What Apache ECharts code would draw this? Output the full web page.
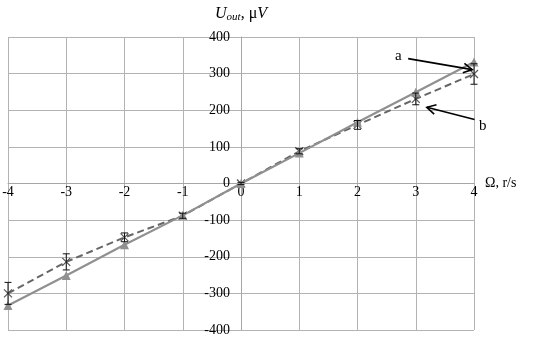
<!DOCTYPE html>
<html>
<head>
<meta charset="utf-8">
<script src="https://cdn.jsdelivr.net/npm/echarts@6/dist/echarts.min.js"></script>
<style>
  html, body { margin: 0; padding: 0; background: #fff; }
  #chart { width: 550px; height: 344px; }
</style>
</head>
<body>
<div id="chart"></div>
<script>
// angular rate, r/s
var omega = [-4, -3, -2, -1, 0, 1, 2, 3, 4];
// curve a (solid, triangles)
var seriesA = [-333, -251, -167, -87, 0, 83, 167, 249, 332];
// curve b (dashed, crosses) with error half-widths
var seriesB = [-300, -214, -147, -88, 0, 88, 160, 231, 299];
var errorB = [30, 22, 12, 7, 3, 7, 12, 16, 28];

// arrow annotations in data units: [label, label x, label y, from x, from y, to x, to y]
var arrowA = ['a', 2.70, 349, 2.87, 341, 3.97, 311];
var arrowB = ['b', 4.15, 156, 4.01, 175, 3.19, 208];

var serif = "'Liberation Serif', 'Times New Roman', serif";

var gridL = 8, gridR = 76, gridT = 37, gridB = 14;
var plotW = 550 - gridL - gridR, plotH = 344 - gridT - gridB;

var dataA = omega.map(function (x, i) { return [x, seriesA[i]]; });
var dataB = omega.map(function (x, i) { return [x, seriesB[i]]; });
var dataErr = omega.map(function (x, i) { return [x, seriesB[i] - errorB[i], seriesB[i] + errorB[i]]; });

var crossPath = 'path://M0,0L1,1M1,0L0,1';

// plain hyphen for negatives, like the original
function plainNum(v) { return String(v); }

var chart = echarts.init(document.getElementById('chart'));

chart.setOption({
  animation: false,
  grid: { left: gridL, right: gridR, top: gridT, bottom: gridB, containLabel: false, outerBoundsMode: 'none' },
  xAxis: {
    type: 'value', min: -4, max: 4, interval: 1,
    offset: -plotH / 2,
    name: 'Ω, r/s', nameLocation: 'end', nameGap: 11,
    nameTextStyle: { fontFamily: serif, fontSize: 14, color: '#000', align: 'left', verticalAlign: 'middle' },
    axisLine: { onZero: false, lineStyle: { color: '#a6a6a6', width: 1 } },
    axisTick: { show: false },
    axisLabel: { fontFamily: serif, fontSize: 14, color: '#000', margin: 2, formatter: plainNum },
    splitLine: { lineStyle: { color: '#b3b3b3', width: 1 } }
  },
  yAxis: {
    type: 'value', min: -400, max: 400, interval: 100,
    offset: -plotW / 2,
    name: '{i|U}{sub|out}{n|, μ}{i|V}', nameLocation: 'end', nameGap: 14,
    nameTextStyle: {
      rich: {
        i: { fontFamily: serif, fontStyle: 'italic', fontSize: 16, color: '#000' },
        sub: { fontFamily: serif, fontStyle: 'italic', fontSize: 11, color: '#000', verticalAlign: 'bottom', padding: [7, 0, 0, 0] },
        n: { fontFamily: serif, fontSize: 16, color: '#000' }
      }
    },
    axisLine: { onZero: false, lineStyle: { color: '#a6a6a6', width: 1 } },
    axisTick: { show: false },
    axisLabel: { fontFamily: serif, fontSize: 14, color: '#000', margin: 11, formatter: plainNum },
    splitLine: { lineStyle: { color: '#b3b3b3', width: 1 } }
  },
  series: [
    {
      name: 'b', type: 'line', data: dataB, z: 3,
      symbol: crossPath, symbolSize: 8,
      lineStyle: { color: '#666', width: 2, type: [7, 4] },
      itemStyle: { color: 'none', borderColor: '#555', borderWidth: 1.2 }
    },
    {
      name: 'a', type: 'line', data: dataA, z: 4,
      symbol: 'triangle', symbolSize: 9,
      lineStyle: { color: '#909090', width: 2.2 },
      itemStyle: { color: '#909090' }
    },
    {
      name: 'errB', type: 'custom', data: dataErr, z: 5,
      renderItem: function (params, api) {
        var x = api.value(0);
        var lo = api.coord([x, api.value(1)]);
        var hi = api.coord([x, api.value(2)]);
        var w = 3.5;
        var st = { stroke: '#111', lineWidth: 1 };
        return {
          type: 'group',
          children: [
            { type: 'line', shape: { x1: lo[0], y1: lo[1], x2: hi[0], y2: hi[1] }, style: st },
            { type: 'line', shape: { x1: lo[0] - w, y1: lo[1], x2: lo[0] + w, y2: lo[1] }, style: st },
            { type: 'line', shape: { x1: hi[0] - w, y1: hi[1], x2: hi[0] + w, y2: hi[1] }, style: st }
          ]
        };
      }
    }
  ]
});

function arrowGraphic(def) {
  var lab = chart.convertToPixel({ gridIndex: 0 }, [def[1], def[2]]);
  var p0 = chart.convertToPixel({ gridIndex: 0 }, [def[3], def[4]]);
  var p1 = chart.convertToPixel({ gridIndex: 0 }, [def[5], def[6]]);
  var ang = Math.atan2(p1[1] - p0[1], p1[0] - p0[0]);
  var len = 10, spread = 0.5;
  var h1 = [p1[0] - len * Math.cos(ang - spread), p1[1] - len * Math.sin(ang - spread)];
  var h2 = [p1[0] - len * Math.cos(ang + spread), p1[1] - len * Math.sin(ang + spread)];
  var st = { stroke: '#000', lineWidth: 1.6, fill: null };
  return [
    { type: 'line', shape: { x1: p0[0], y1: p0[1], x2: p1[0], y2: p1[1] }, style: st, z: 10 },
    { type: 'polyline', shape: { points: [h1, p1, h2] }, style: st, z: 10 },
    { type: 'text', x: lab[0], y: lab[1], z: 10,
      style: { text: def[0], font: '15px ' + serif, fill: '#000', align: 'center', verticalAlign: 'middle' } }
  ];
}

chart.setOption({ graphic: arrowGraphic(arrowA).concat(arrowGraphic(arrowB)) });
</script>
</body>
</html>
